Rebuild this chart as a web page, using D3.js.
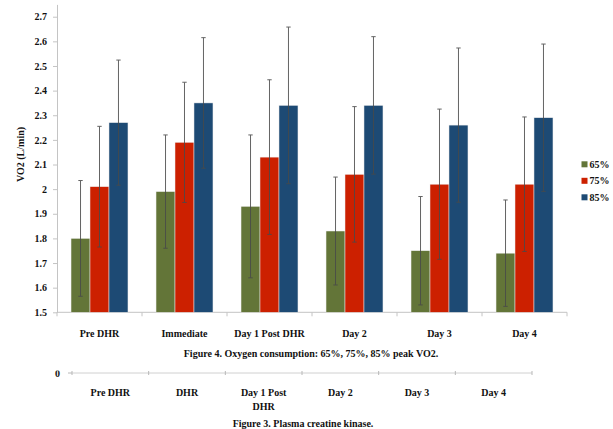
<!DOCTYPE html>
<html>
<head>
<meta charset="utf-8">
<script src="https://cdn.jsdelivr.net/npm/d3@7"></script>
<style>
  html, body { margin: 0; padding: 0; background: #fff; }
  svg { display: block; }
  text { font-family: "Liberation Serif", "Times New Roman", serif; font-weight: bold; fill: #111; }
</style>
</head>
<body>
<svg id="chart" width="613" height="429"></svg>
<script>
// ---- Data ----
const categories = ["Pre DHR", "Immediate", "Day 1 Post DHR", "Day 2", "Day 3", "Day 4"];
const seriesNames = ["65%", "75%", "85%"];
const values65 = [1.80, 1.99, 1.93, 1.83, 1.75, 1.74];
const values75 = [2.01, 2.19, 2.13, 2.06, 2.02, 2.02];
const values85 = [2.27, 2.35, 2.34, 2.34, 2.26, 2.29];
const err65 = [0.235, 0.23, 0.29, 0.219, 0.22, 0.216];
const err75 = [0.245, 0.244, 0.314, 0.275, 0.305, 0.273];
const err85 = [0.254, 0.265, 0.318, 0.279, 0.313, 0.299];
const yTicks = [1.5, 1.6, 1.7, 1.8, 1.9, 2.0, 2.1, 2.2, 2.3, 2.4, 2.5, 2.6, 2.7];
const yTickLabels = ["1.5", "1.6", "1.7", "1.8", "1.9", "2", "2.1", "2.2", "2.3", "2.4", "2.5", "2.6", "2.7"];
const caption1 = "Figure 4. Oxygen consumption: 65%, 75%, 85% peak VO2.";
const categories2 = [["Pre DHR"], ["DHR"], ["Day 1 Post", "DHR"], ["Day 2"], ["Day 3"], ["Day 4"]];
const caption2 = "Figure 3. Plasma creatine kinase.";

const colors = ["#637538", "#cc2000", "#1d4a74"];
const seriesValues = [values65, values75, values85];
const seriesErrors = [err65, err75, err85];

const svg = d3.select("#chart");
svg.append("rect").attr("width", 613).attr("height", 429).attr("fill", "#fff");

// ---- Main chart ----
const plotTop = 4.4, plotBottom = 312.3, plotLeft = 57, plotRight = 567;
const y = d3.scaleLinear().domain([1.5, 2.75]).range([plotBottom, plotTop]);
const x0 = d3.scaleBand().domain(categories).range([plotLeft, plotRight])
  .paddingInner(0.33).paddingOuter(0.165);
const x1 = d3.scaleBand().domain(seriesNames).range([0, x0.bandwidth()]);

const axisColor = "#c4c4c4";

// Y axis
const yAxis = d3.axisLeft(y).tickValues(yTicks)
  .tickFormat((d, i) => yTickLabels[i]).tickSize(4).tickSizeOuter(0).tickPadding(6);
const gy = svg.append("g").attr("transform", `translate(${plotLeft},0)`).call(yAxis);
gy.select(".domain").attr("stroke", axisColor);
gy.selectAll(".tick line").attr("stroke", axisColor);
gy.selectAll(".tick text").attr("font-size", 10).attr("fill", "#111")
  .attr("font-family", "Liberation Serif, serif").attr("font-weight", "bold");

// X axis line + boundary ticks
svg.append("line").attr("x1", plotLeft).attr("x2", plotRight)
  .attr("y1", plotBottom).attr("y2", plotBottom).attr("stroke", axisColor);
const step = x0.step();
d3.range(categories.length + 1).forEach(i => {
  const bx = x0.range()[0] + i * step;
  svg.append("line").attr("x1", bx).attr("x2", bx)
    .attr("y1", plotBottom).attr("y2", plotBottom + 4).attr("stroke", axisColor);
});

// Category labels
svg.append("g").selectAll("text").data(categories).join("text")
  .attr("x", d => x0(d) + x0.bandwidth() / 2)
  .attr("y", plotBottom + 24.5)
  .attr("text-anchor", "middle").attr("font-size", 10)
  .text(d => d);

// Bars
const groups = svg.append("g").selectAll("g").data(categories).join("g")
  .attr("transform", d => `translate(${x0(d)},0)`);

groups.each(function(cat, ci) {
  const g = d3.select(this);
  seriesNames.forEach((s, si) => {
    const v = seriesValues[si][ci];
    g.append("rect")
      .attr("x", x1(s))
      .attr("y", y(v))
      .attr("width", x1.bandwidth())
      .attr("height", y(1.5) - y(v))
      .attr("fill", colors[si])
      .attr("stroke", "#ececec").attr("stroke-width", 0.5);
  });
});

// Error bars
groups.each(function(cat, ci) {
  const g = d3.select(this);
  seriesNames.forEach((s, si) => {
    const v = seriesValues[si][ci], e = seriesErrors[si][ci];
    const cx = x1(s) + x1.bandwidth() / 2;
    const eg = g.append("g").attr("stroke", "#4a4a4a").attr("stroke-width", 1).attr("opacity", 0.85);
    eg.append("line").attr("x1", cx).attr("x2", cx).attr("y1", y(v + e)).attr("y2", y(v - e));
    eg.append("line").attr("x1", cx - 2.2).attr("x2", cx + 2.2).attr("y1", y(v + e)).attr("y2", y(v + e));
    eg.append("line").attr("x1", cx - 2.2).attr("x2", cx + 2.2).attr("y1", y(v - e)).attr("y2", y(v - e));
  });
});

// Y axis title
svg.append("text")
  .attr("transform", "translate(20,154.5) rotate(-90)")
  .attr("text-anchor", "middle").attr("dominant-baseline", "central")
  .attr("font-size", 10).text("VO2 (L/min)");

// Legend
const legend = svg.append("g").selectAll("g").data(seriesNames).join("g")
  .attr("transform", (d, i) => `translate(581.5,${164.3 + i * 16.5})`);
legend.append("rect").attr("x", 0).attr("y", -3).attr("width", 6).attr("height", 6)
  .attr("fill", (d, i) => colors[i]);
legend.append("text").attr("x", 8).attr("y", 0).attr("dominant-baseline", "central")
  .attr("font-size", 10).text(d => d);

// Caption 1
svg.append("text").attr("x", 311).attr("y", 353).attr("dominant-baseline", "central")
  .attr("text-anchor", "middle").attr("font-size", 10).text(caption1);

// ---- Second (cropped) chart fragment ----
const x2 = d3.scaleBand().domain(categories2.map(d => d.join(" "))).range([72, 532]);
const axis2Y = 373;
svg.append("defs").append("clipPath").attr("id", "clip0")
  .append("rect").attr("x", 0).attr("y", 370.5).attr("width", 100).attr("height", 20);
svg.append("text").attr("x", 60).attr("y", 377).attr("text-anchor", "end")
  .attr("font-size", 10).attr("clip-path", "url(#clip0)").text("0");
svg.append("line").attr("x1", 72).attr("x2", 532).attr("y1", axis2Y).attr("y2", axis2Y)
  .attr("stroke", "#d0d0d0");
d3.range(categories2.length + 1).forEach(i => {
  const bx = x2.range()[0] + i * x2.step();
  svg.append("line").attr("x1", bx).attr("x2", bx)
    .attr("y1", axis2Y - 2).attr("y2", axis2Y + 2).attr("stroke", "#b8b8b8");
});
svg.append("line").attr("x1", 68).attr("x2", 72).attr("y1", axis2Y).attr("y2", axis2Y)
  .attr("stroke", "#b8b8b8");
const lab2 = svg.append("g").selectAll("text").data(categories2).join("text")
  .attr("x", d => x2(d.join(" ")) + x2.bandwidth() / 2)
  .attr("y", 392).attr("dominant-baseline", "central")
  .attr("text-anchor", "middle").attr("font-size", 10);
lab2.each(function(d) {
  const t = d3.select(this);
  d.forEach((line, li) => {
    t.append("tspan").attr("x", t.attr("x")).attr("dy", li === 0 ? 0 : 13.5).text(line);
  });
});

// Caption 2
svg.append("text").attr("x", 303).attr("y", 423).attr("dominant-baseline", "central")
  .attr("text-anchor", "middle").attr("font-size", 10).text(caption2);
</script>
</body>
</html>
